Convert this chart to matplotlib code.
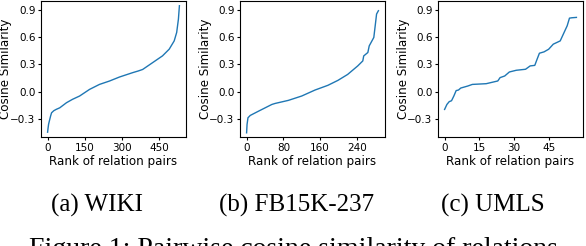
import matplotlib
matplotlib.use("Agg")
import matplotlib.pyplot as plt

# WIKI: rank of relation pairs -> cosine similarity
wiki_rank = [0, 2, 4, 7, 12, 16, 25, 35, 49, 76, 100, 129, 169, 209, 249, 290,
             343, 365, 383, 423, 463, 490, 510, 520, 527, 531]
wiki_sim = [-0.447, -0.40, -0.36, -0.325, -0.27, -0.233, -0.21, -0.195, -0.178,
            -0.122, -0.085, -0.048, 0.025, 0.08, 0.117, 0.162, 0.21, 0.228,
            0.245, 0.32, 0.395, 0.469, 0.56, 0.653, 0.80, 0.948]

# FB15K-237
fb_rank = [0, 1, 3, 8, 26, 55, 62, 91, 120, 149, 177, 199, 220, 242, 253, 255,
           264, 267, 277, 280, 283, 287]
fb_sim = [-0.454, -0.362, -0.288, -0.262, -0.215, -0.141, -0.130, -0.096,
          -0.048, 0.018, 0.07, 0.125, 0.19, 0.284, 0.339, 0.394, 0.432, 0.505,
          0.598, 0.726, 0.856, 0.893]

# UMLS
umls_rank = [0, 1, 2, 3, 4, 5, 6, 7, 10, 12, 18, 21, 23, 24, 26, 28, 31, 35,
             37, 39, 40, 41, 43, 45, 47, 50, 52, 53, 54, 55, 57]
umls_sim = [-0.196, -0.141, -0.11, -0.1, -0.048, 0.012, 0.018, 0.04, 0.062,
            0.08, 0.088, 0.106, 0.118, 0.155, 0.173, 0.217, 0.236, 0.247,
            0.284, 0.29, 0.358, 0.424, 0.439, 0.468, 0.524, 0.56, 0.671,
            0.726, 0.811, 0.815, 0.819]

panels = [
    (wiki_rank, wiki_sim, [0, 150, 300, 450], "(a) WIKI", 41, 97),
    (fb_rank, fb_sim, [0, 80, 160, 240], "(b) FB15K-237", 240, 297),
    (umls_rank, umls_sim, [0, 15, 30, 45], "(c) UMLS", 438, 493),
]
yticks = [-0.3, 0.0, 0.3, 0.6, 0.9]

W, H = 586, 246
fig = plt.figure(figsize=(W / 100, H / 100), dpi=100)

for rank, sim, xt, cap, left, capx in panels:
    ax = fig.add_axes([left / W, 109 / H, 145 / W, 136 / H])
    ax.plot(rank, sim, color="#1f77b4", lw=1.0)
    ax.set_ylim(-0.5, 1.0)
    ax.set_xticks(xt)
    ax.set_yticks(yticks)
    ax.tick_params(labelsize=7.5, length=2.5, pad=1.5)
    ax.set_xlabel("Rank of relation pairs", fontsize=8.6, labelpad=2)
    ax.set_ylabel("Cosine Similarity", fontsize=8.6)
    # keep the y label inside the figure like the original
    ax.yaxis.set_label_coords(-28.5 / 145, 0.5)
    # sub caption under each panel
    fig.text(capx / W, (H - 211.7) / H, cap, ha="center", va="baseline",
             family="Liberation Serif", fontsize=18)

fig.text(0.5, (H - 256) / H, "Figure 1: Pairwise cosine similarity of relations",
         ha="center", va="baseline", family="Liberation Serif", fontsize=20)

fig.savefig("out.png", dpi=100)
